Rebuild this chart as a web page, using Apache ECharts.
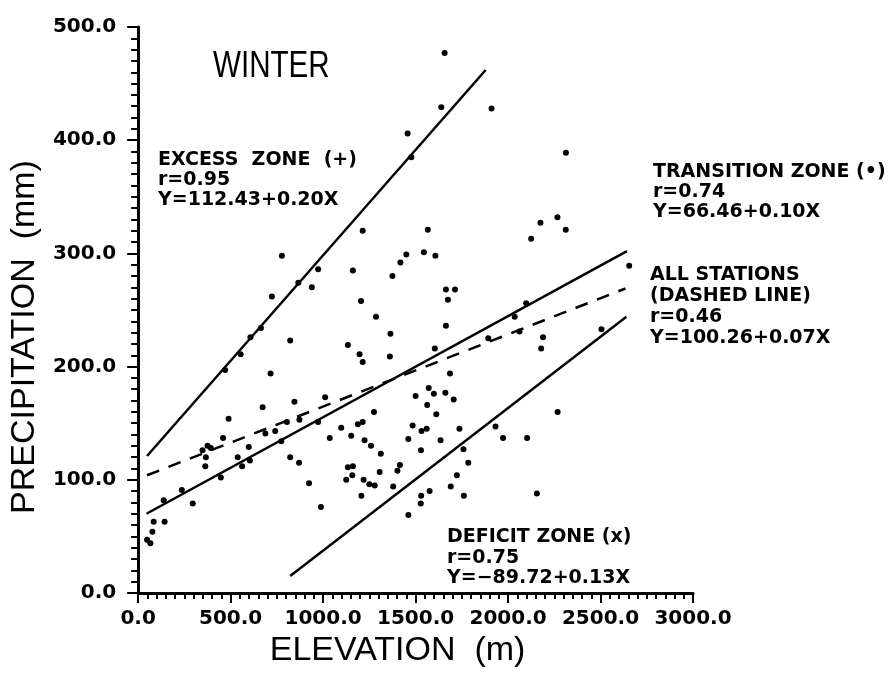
<!DOCTYPE html>
<html>
<head>
<meta charset="utf-8">
<script src="https://cdn.jsdelivr.net/npm/echarts@6/dist/echarts.min.js"></script>
<style>
html,body{margin:0;padding:0;background:#fff;}
#chart{width:891px;height:673px;}
</style>
</head>
<body>
<div id="chart"></div>
<script>
// ---- data ----
const xTickValues = [0, 500, 1000, 1500, 2000, 2500, 3000];
const xTickLabels = ['0.0', '500.0', '1000.0', '1500.0', '2000.0', '2500.0', '3000.0'];
const yTickValues = [0, 100, 200, 300, 400, 500];
const yTickLabels = ['0.0', '100.0', '200.0', '300.0', '400.0', '500.0'];

// station points: [elevation (m), precipitation (mm)]
const stations = [
  [1657,477],[1639,429],[1911,428],[1457,406],[1477,385],[2313,389],[2175,327],[2267,332],
  [2312,321],[2125,313],[1566,321],[1450,299],[1418,292],[1545,301],[1607,298],[2655,289],
  [1664,268],[1713,268],[1675,259],[777,298],[1214,320],[973,286],[1161,285],[1375,280],
  [866,274],[939,270],[723,262],[664,234],[607,226],[554,211],[470,197],[822,223],
  [716,194],[673,164],[845,169],[1011,173],[489,154],[459,137],[598,129],[348,126],
  [375,130],[393,128],[366,120],[688,141],[741,143],[804,151],[872,153],[973,151],
  [774,134],[1036,137],[538,120],[562,112],[604,117],[363,112],[447,102],[822,120],
  [870,115],[924,97],[236,91],[138,82],[295,79],[988,76],[84,63],[143,63],
  [77,54],[48,47],[66,44],[1205,258],[1286,244],[1664,236],[1364,229],[1134,219],
  [1197,211],[1214,204],[1361,209],[1604,216],[1893,225],[1686,194],[1500,174],[1571,181],
  [1599,176],[1661,177],[1706,171],[1563,166],[1612,158],[1275,160],[1214,151],[1188,149],
  [1098,146],[1152,139],[1224,135],[1259,130],[1312,123],[1484,148],[1532,143],[1560,145],
  [1461,136],[1635,135],[1737,145],[1529,126],[1759,127],[1785,115],[1415,113],[1402,108],
  [1306,107],[1161,112],[1134,111],[1125,100],[1158,104],[1219,100],[1250,96],[1279,95],
  [1379,94],[1207,86],[1723,104],[1690,94],[1761,86],[1576,90],[1530,86],[1528,79],
  [1461,69],[2098,256],[2036,244],[2062,231],[2189,226],[2179,216],[2505,233],[2268,160],
  [1932,147],[1973,137],[2103,137],[2156,88]
];

// regression lines as drawn (end points)
const excessLine = [[48,121],[1879,462]];
const transitionLine = [[45,70],[2643,302]];
const allStationsLine = [[48,104],[2635,269]];
const deficitLine = [[822,15],[2640,244]];

const titleText = 'WINTER';
const xName = 'ELEVATION  (m)';
const yName = 'PRECIPITATION  (mm)';
const excessText = ['EXCESS  ZONE  (+)', 'r=0.95', 'Y=112.43+0.20X'];
const transitionText = ['TRANSITION ZONE (\u2022)', 'r=0.74', 'Y=66.46+0.10X'];
const allText = ['ALL STATIONS', '(DASHED LINE)', 'r=0.46', 'Y=100.26+0.07X'];
const deficitText = ['DEFICIT ZONE (x)', 'r=0.75', 'Y=\u221289.72+0.13X'];

// ---- chart ----
const chart = echarts.init(document.getElementById('chart'), null, {renderer: 'canvas'});
const annFont = 'DejaVu Sans';
function ann(lines, x, y, lh) {
  return {
    type: 'text', x: x, y: y, z: 100,
    style: {
      text: lines.join('\n'), fill: '#000', fontFamily: annFont, fontWeight: 'bold',
      fontSize: 19, lineHeight: lh, align: 'left', verticalAlign: 'top'
    }
  };
}
const lineStyleSolid = {color: '#000', width: 2.5, opacity: 1};
const option = {
  backgroundColor: '#fff',
  animation: false,
  grid: {left: 133, right: 198, top: 27, bottom: 80, containLabel: false},
  xAxis: {
    type: 'value', min: 0, max: 3000, interval: 500,
    name: xName, nameLocation: 'middle', nameGap: 40,
    nameTextStyle: {fontFamily: 'Liberation Sans', fontSize: 34, color: '#000', padding: [0, 36, 0, 0]},
    axisLine: {show: true, onZero: false, lineStyle: {color: '#000', width: 3}},
    axisTick: {show: true, length: 10, lineStyle: {color: '#000', width: 2}},
    minorTick: {show: true, splitNumber: 10, length: 6, lineStyle: {color: '#000', width: 2}},
    splitLine: {show: false},
    axisLabel: {
      margin: 16, color: '#000', fontFamily: 'DejaVu Sans', fontWeight: 'bold', fontSize: 20,
      formatter: v => { const i = xTickValues.indexOf(v); return i >= 0 ? xTickLabels[i] : ''; }
    }
  },
  yAxis: {
    type: 'value', min: 0, max: 500, interval: 100,
    name: yName, nameLocation: 'middle', nameGap: 86,
    nameTextStyle: {fontFamily: 'Liberation Sans', fontSize: 34, color: '#000', padding: [0, 54, 0, 0]},
    axisLine: {show: true, onZero: false, lineStyle: {color: '#000', width: 3}},
    axisTick: {show: true, length: 11, lineStyle: {color: '#000', width: 2}},
    minorTick: {show: true, splitNumber: 10, length: 7, lineStyle: {color: '#000', width: 2}},
    splitLine: {show: false},
    axisLabel: {
      margin: 22, color: '#000', fontFamily: 'DejaVu Sans', fontWeight: 'bold', fontSize: 20,
      formatter: v => { const i = yTickValues.indexOf(v); return i >= 0 ? yTickLabels[i] : ''; }
    }
  },
  graphic: [
    {
      type: 'text', x: 213, y: 48, scaleX: 0.8, z: 100,
      style: {text: titleText, fill: '#000', fontFamily: 'Liberation Sans', fontSize: 37,
              align: 'left', verticalAlign: 'top'}
    },
    ann(excessText, 158, 150, 20),
    ann(transitionText, 653, 162, 20),
    ann(allText, 650, 265, 21),
    ann(deficitText, 447, 527, 20.5)
  ],
  series: [
    {type: 'scatter', data: stations, symbol: 'circle', symbolSize: 6,
     itemStyle: {color: '#000', opacity: 1}, z: 5},
    {type: 'line', data: excessLine, symbol: 'none', lineStyle: lineStyleSolid, z: 4},
    {type: 'line', data: transitionLine, symbol: 'none', lineStyle: lineStyleSolid, z: 4},
    {type: 'line', data: allStationsLine, symbol: 'none',
     lineStyle: {color: '#000', width: 2.5, opacity: 1, type: [13, 10]}, z: 4},
    {type: 'line', data: deficitLine, symbol: 'none', lineStyle: lineStyleSolid, z: 4}
  ]
};
chart.setOption(option);
</script>
</body>
</html>
